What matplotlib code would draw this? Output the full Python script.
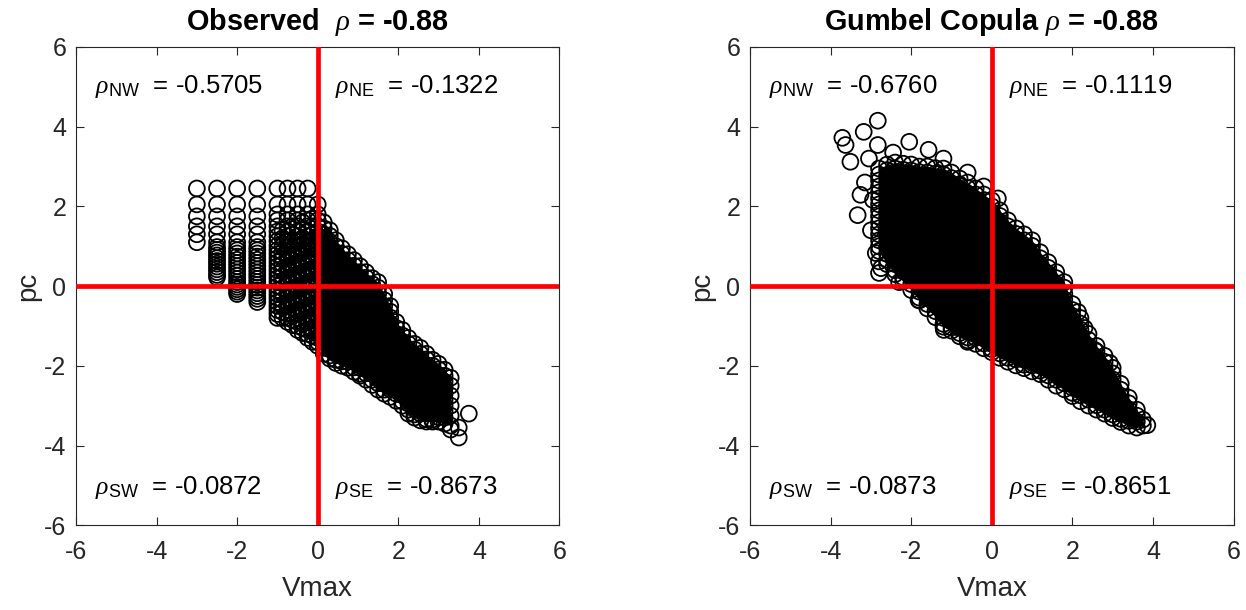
import matplotlib
matplotlib.use("Agg")
import matplotlib.pyplot as plt

plt.rcParams['font.family'] = ['Liberation Sans', 'DejaVu Sans']
plt.rcParams['mathtext.fontset'] = 'custom'
plt.rcParams['mathtext.rm'] = 'Liberation Sans'
plt.rcParams['mathtext.it'] = 'Liberation Serif:italic'
plt.rcParams['mathtext.bf'] = 'Liberation Sans:bold'
plt.rcParams['axes.unicode_minus'] = False

# ---- data (pc values in hundredths, one list per Vmax column) ----
quad_names = ['NW', 'NE', 'SW', 'SE']
obs_quad_rho = [-0.5705, -0.1322, -0.0872, -0.8673]
cop_quad_rho = [-0.6760, -0.1119, -0.0873, -0.8651]
obs_title = 'Observed  $\\rho$ = -0.88'
cop_title = 'Gumbel Copula $\\rho$ = -0.88'

# observed, discrete Vmax columns left of zero
obs_left_x = [-3.0, -2.5, -2.0, -1.5, -1.0, -0.875, -0.75, -0.625, -0.5,
              -0.375, -0.25, -0.125, 0.0]
obs_left_y = [
    [245, 205, 175, 150, 130, 110],
    [245, 205, 175, 150, 130, 110, 98, 91, 84, 77, 70, 63, 56, 49, 42, 35, 28, 22],
    [245, 205, 175, 150, 130, 110, 98, 90, 82, 74, 66, 58, 50, 42, 34, 26, 18, 10, 4, -2, -8, -14, -20],
    [245, 205, 175, 150, 130, 110, 98, 90, 82, 74, 66, 58, 50, 42, 34, 26, 18, 10, 3, -4, -11, -18, -25, -32, -40],
    [245, 205, 180, 165, 150, 137, 125, 113, 101, 90, 80, 70, 60, 50, 40, 30, 20, 10, 0, -10, -20, -30, -40, -50, -60, -70, -80],
    [140, 120, 100, 85, 70, 55, 40, 25, 10, -5, -20, -35, -50, -65, -80],
    [245, 205, 180, 165, 150, 137, 125, 113, 101, 90, 80, 70, 60, 50, 40, 30, 20, 10, 0, -10, -20, -30, -40, -50, -60, -70, -80, -90],
    [150, 130, 110, 95, 80, 65, 50, 35, 20, 5, -10, -25, -40, -55, -70, -85, -98],
    [245, 205, 180, 165, 150, 137, 125, 113, 101, 90, 80, 70, 60, 50, 40, 30, 20, 10, 0, -10, -20, -30, -40, -50, -60, -70, -80, -90, -100, -110],
    [160, 140, 120, 105, 90, 75, 60, 45, 30, 15, 0, -15, -30, -45, -60, -75, -90, -105, -118],
    [245, 205, 180, 165, 150, 137, 125, 113, 101, 90, 80, 70, 60, 50, 40, 30, 20, 10, 0, -10, -20, -30, -40, -50, -60, -70, -80, -90, -100, -110, -120, -130],
    [170, 150, 130, 115, 100, 85, 70, 55, 40, 25, 10, -5, -20, -35, -50, -65, -80, -95, -110, -125, -140],
    [205, 180, 165, 150, 137, 125, 113, 101, 90, 80, 70, 60, 50, 40, 30, 20, 10, 0, -10, -20, -30, -40, -50, -60, -70, -80, -90, -100, -110, -120, -130, -140, -150],
]
# observed, dense part right of zero
obs_core_x = [0.15, 0.30, 0.45, 0.60, 0.75, 0.90, 1.05, 1.20, 1.35, 1.50,
              1.65, 1.80, 1.95, 2.10, 2.25, 2.40, 2.55, 2.70, 2.85, 3.00,
              3.15, 3.30]
obs_core_y = [
    [160, 145, 130, 115, 100, 85, 70, 55, 40, 25, 10, -5, -20, -35, -50, -65, -80, -95, -110, -125, -140, -155, -170],
    [140, 126, 111, 96, 81, 66, 51, 36, 21, 6, -9, -24, -39, -54, -69, -84, -99, -114, -129, -144, -159, -174, -182],
    [115, 100, 85, 70, 55, 40, 25, 10, -5, -20, -35, -50, -65, -80, -95, -110, -125, -140, -155, -170, -185, -193],
    [95, 81, 66, 51, 36, 21, 6, -9, -24, -39, -54, -69, -84, -99, -114, -129, -144, -159, -174, -189, -200],
    [80, 65, 50, 35, 20, 5, -10, -25, -40, -55, -70, -85, -100, -115, -130, -145, -160, -175, -190, -205],
    [65, 51, 36, 21, 6, -9, -24, -39, -54, -69, -84, -99, -114, -129, -144, -159, -174, -189, -204, -215],
    [50, 35, 20, 5, -10, -25, -40, -55, -70, -85, -100, -115, -130, -145, -160, -175, -190, -205, -220, -225],
    [35, 21, 6, -9, -24, -39, -54, -69, -84, -99, -114, -129, -144, -159, -174, -189, -204, -219, -235],
    [20, 5, -10, -25, -40, -55, -70, -85, -100, -115, -130, -145, -160, -175, -190, -205, -220, -235, -248],
    [10, -4, -19, -34, -49, -64, -79, -94, -109, -124, -139, -154, -169, -184, -199, -214, -229, -244, -260],
    [-20, -35, -50, -65, -80, -95, -110, -125, -140, -155, -170, -185, -200, -215, -230, -245, -260, -270],
    [-50, -64, -79, -94, -109, -124, -139, -154, -169, -184, -199, -214, -229, -244, -259, -278],
    [-90, -105, -120, -135, -150, -165, -180, -195, -210, -225, -240, -255, -270, -288],
    [-110, -124, -139, -154, -169, -184, -199, -214, -229, -244, -259, -274, -289, -300],
    [-130, -145, -160, -175, -190, -205, -220, -235, -250, -265, -280, -295, -310, -320],
    [-145, -159, -174, -189, -204, -219, -234, -249, -264, -279, -294, -309, -322, -330],
    [-155, -170, -185, -200, -215, -230, -245, -260, -275, -290, -305, -320, -337],
    [-170, -184, -199, -214, -229, -244, -259, -274, -289, -304, -319, -334, -340],
    [-185, -200, -215, -230, -245, -260, -275, -290, -305, -320, -335, -340],
    [-195, -209, -224, -239, -254, -269, -284, -299, -314, -329, -340],
    [-210, -225, -240, -255, -270, -285, -300, -315, -330, -345],
    [-230, -250, -275, -300, -325, -350],
]
obs_out_x = [3.5, 3.5, 3.75, 3.3]
obs_out_y = [-3.55, -3.8, -3.2, -3.6]

# Gumbel copula sample, dense part
cop_core_x = [-2.8, -2.6, -2.4, -2.2, -2.0, -1.8, -1.6, -1.4, -1.2, -1.0,
              -0.8, -0.6, -0.4, -0.2, 0.0, 0.2, 0.4, 0.6, 0.8, 1.0,
              1.2, 1.4, 1.6, 1.8, 2.0, 2.2, 2.4, 2.6, 2.8, 3.0,
              3.2, 3.4, 3.6, 3.75]
cop_core_y = [
    [295, 280, 265, 250, 235, 220, 205, 190, 175, 160, 145, 130, 115, 100, 88],
    [305, 291, 276, 261, 246, 231, 216, 201, 186, 171, 156, 141, 126, 111, 96, 81, 66, 55],
    [310, 295, 280, 265, 250, 235, 220, 205, 190, 175, 160, 145, 130, 115, 100, 85, 70, 55, 40, 30],
    [307, 292, 277, 262, 247, 232, 217, 202, 187, 172, 157, 142, 127, 112, 97, 82, 67, 52, 37, 22, 12],
    [305, 290, 275, 260, 245, 230, 215, 200, 185, 170, 155, 140, 125, 110, 95, 80, 65, 50, 35, 20, 5, -10],
    [300, 286, 271, 256, 241, 226, 211, 196, 181, 166, 151, 136, 121, 106, 91, 76, 61, 46, 31, 16, 1, -14, -29, -36],
    [300, 285, 270, 255, 240, 225, 210, 195, 180, 165, 150, 135, 120, 105, 90, 75, 60, 45, 30, 15, 0, -15, -30, -45, -56],
    [296, 282, 267, 252, 237, 222, 207, 192, 177, 162, 147, 132, 117, 102, 87, 72, 57, 42, 27, 12, -3, -18, -33, -48, -63, -78],
    [295, 280, 265, 250, 235, 220, 205, 190, 175, 160, 145, 130, 115, 100, 85, 70, 55, 40, 25, 10, -5, -20, -35, -50, -65, -80, -95, -102],
    [285, 271, 256, 241, 226, 211, 196, 181, 166, 151, 136, 121, 106, 91, 76, 61, 46, 31, 16, 1, -14, -29, -44, -59, -74, -89, -104, -112],
    [270, 255, 240, 225, 210, 195, 180, 165, 150, 135, 120, 105, 90, 75, 60, 45, 30, 15, 0, -15, -30, -45, -60, -75, -90, -105, -118, -126],
    [260, 246, 231, 216, 201, 186, 171, 156, 141, 126, 111, 96, 81, 66, 51, 36, 21, 6, -9, -24, -39, -54, -69, -84, -99, -114, -129, -136],
    [245, 230, 215, 200, 185, 170, 155, 140, 125, 110, 95, 80, 65, 50, 35, 20, 5, -10, -25, -40, -55, -70, -85, -100, -115, -130, -145],
    [230, 216, 201, 186, 171, 156, 141, 126, 111, 96, 81, 66, 51, 36, 21, 6, -9, -24, -39, -54, -69, -84, -99, -114, -129, -144, -156],
    [215, 200, 185, 170, 155, 140, 125, 110, 95, 80, 65, 50, 35, 20, 5, -10, -25, -40, -55, -70, -85, -100, -115, -130, -145, -158, -166],
    [190, 176, 161, 146, 131, 116, 101, 86, 71, 56, 41, 26, 11, -4, -19, -34, -49, -64, -79, -94, -109, -124, -139, -154, -169, -180],
    [165, 150, 135, 120, 105, 90, 75, 60, 45, 30, 15, 0, -15, -30, -45, -60, -75, -90, -105, -120, -135, -150, -165, -180, -190],
    [145, 131, 116, 101, 86, 71, 56, 41, 26, 11, -4, -19, -34, -49, -64, -79, -94, -109, -124, -139, -154, -169, -184, -199],
    [130, 115, 100, 85, 70, 55, 40, 25, 10, -5, -20, -35, -50, -65, -80, -95, -110, -125, -140, -155, -170, -185, -197, -206],
    [115, 101, 86, 71, 56, 41, 26, 11, -4, -19, -34, -49, -64, -79, -94, -109, -124, -139, -154, -169, -184, -199, -214],
    [85, 70, 55, 40, 25, 10, -5, -20, -35, -50, -65, -80, -95, -110, -125, -140, -155, -170, -185, -200, -212, -221],
    [60, 46, 31, 16, 1, -14, -29, -44, -59, -74, -89, -104, -119, -134, -149, -164, -179, -194, -209, -224, -235],
    [35, 20, 5, -10, -25, -40, -55, -70, -85, -100, -115, -130, -145, -160, -175, -190, -205, -220, -235, -250],
    [10, -4, -19, -34, -49, -64, -79, -94, -109, -124, -139, -154, -169, -184, -199, -214, -229, -244, -259],
    [-45, -60, -75, -90, -105, -120, -135, -150, -165, -180, -195, -210, -225, -240, -255, -268, -276],
    [-80, -94, -109, -124, -139, -154, -169, -184, -199, -214, -229, -244, -259, -274, -289],
    [-120, -135, -150, -165, -180, -195, -210, -225, -240, -255, -270, -285, -300],
    [-150, -164, -179, -194, -209, -224, -239, -254, -269, -284, -299, -310],
    [-175, -190, -205, -220, -235, -250, -265, -280, -295, -310, -320],
    [-205, -219, -234, -249, -264, -279, -294, -309, -322, -331],
    [-245, -260, -275, -290, -305, -320, -333, -341],
    [-280, -294, -309, -324, -338, -350],
    [-310, -325, -340, -355],
    [-335, -350],
]
# copula, scattered points around the dense part
cop_out_x = [-3.71, -3.63, -3.18, -2.83, -2.83, -3.51, -3.05, -2.05, -1.57, -2.45,
             -1.2, -0.6, -0.2, 0.15, -3.33, -3.26, -2.95, -3.0, -3.15, -2.88,
             -2.8, -2.3, -1.82, -1.19, -0.6, 2.14, 2.3, 2.93, 2.55, 3.86,
             -2.8, -2.75]
cop_out_y = [3.72, 3.54, 3.87, 4.15, 3.54, 3.12, 3.2, 3.62, 3.42, 3.35,
             3.2, 2.85, 2.5, 2.2, 1.78, 2.29, 2.16, 1.4, 2.6, 0.83,
             0.33, 0.1, -0.35, -1.1, -1.4, -0.65, -1.05, -1.93, -1.6, -3.49,
             0.62, 0.45]


def flatten(cols_x, cols_y):
    xs, ys = [], []
    for x, col in zip(cols_x, cols_y):
        for v in col:
            xs.append(x)
            ys.append(v / 100.0)
    return xs, ys


def envelope(cols_x, cols_y):
    lo = [min(c) / 100.0 for c in cols_y]
    hi = [max(c) / 100.0 for c in cols_y]
    return cols_x, lo, hi


ox1, oy1 = flatten(obs_left_x, obs_left_y)
ox2, oy2 = flatten(obs_core_x, obs_core_y)
cx1, cy1 = flatten(cop_core_x, cop_core_y)

fig = plt.figure(figsize=(12.46, 6.10), dpi=100)
ax1 = fig.add_axes([0.061, 0.139, 0.388, 0.784])
ax2 = fig.add_axes([0.602, 0.139, 0.388, 0.784])

panels = [
    (ax1, ox1 + ox2 + obs_out_x, oy1 + oy2 + obs_out_y,
     envelope(obs_core_x, obs_core_y), obs_title, obs_quad_rho),
    (ax2, cx1 + cop_out_x, cy1 + cop_out_y,
     envelope(cop_core_x, cop_core_y), cop_title, cop_quad_rho),
]

text_pos = [(-5.52, 4.85), (0.42, 4.85), (-5.52, -5.22), (0.42, -5.22)]

for ax, xs, ys, (ex, elo, ehi), title, rhos in panels:
    # overplotted circles merge into a solid mass in the dense part
    ax.fill_between(ex, elo, ehi, color='k', lw=0, zorder=1)
    ax.scatter(xs, ys, s=130, facecolors='none', edgecolors='k', linewidths=1.3, zorder=2)
    ax.axhline(0, color='#ff0000', lw=3.4, zorder=3)
    ax.axvline(0, color='#ff0000', lw=3.4, zorder=3)
    ax.set_xlim(-6, 6)
    ax.set_ylim(-6, 6)
    ax.set_xticks([-6, -4, -2, 0, 2, 4, 6])
    ax.set_yticks([-6, -4, -2, 0, 2, 4, 6])
    ax.tick_params(direction='in', top=True, right=True, length=6, width=0.8,
                   labelsize=18, labelcolor='#262626', color='#262626', pad=7)
    ax.tick_params(axis='x', pad=11)
    for sp in ax.spines.values():
        sp.set_color('#262626')
        sp.set_linewidth(0.8)
    ax.set_xlabel('Vmax', fontsize=20, color='#262626', labelpad=8)
    ax.set_ylabel('pc', fontsize=20, color='#262626', labelpad=2)
    ax.set_title(title, fontsize=20.8, fontweight='bold', pad=12)
    for (tx, ty), name, r in zip(text_pos, quad_names, rhos):
        ax.text(tx, ty, '$\\rho_{\\mathrm{%s}}$  = %.4f' % (name, r), fontsize=18.5,
                va='baseline', ha='left', zorder=4)

fig.savefig('out.png', dpi=100)
